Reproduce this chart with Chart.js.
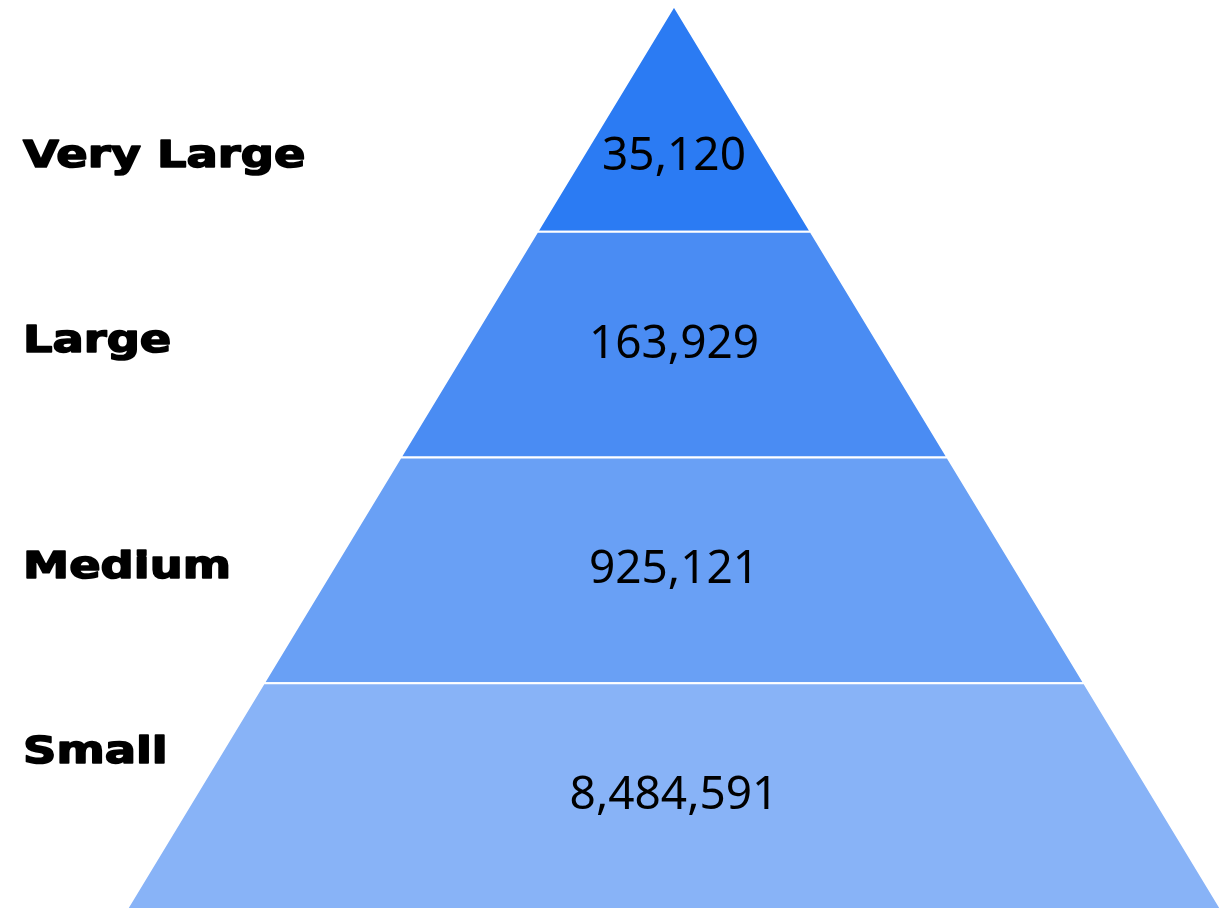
<!DOCTYPE html>
<html>
<head>
<meta charset="utf-8">
<script src="https://cdn.jsdelivr.net/npm/chart.js@4/dist/chart.umd.min.js"></script>
<style>
  html, body { margin: 0; padding: 0; background: #fff; }
  #wrap { width: 1221px; height: 910px; }
</style>
</head>
<body>
<div id="wrap"><canvas id="pyramid"></canvas></div>
<script>
// pyramid levels, bottom to top
const levels = ['Small', 'Medium', 'Large', 'Very Large'];
const counts = [8484591, 925121, 163929, 35120];
const levelColors = ['#88b3f7', '#69a0f5', '#4a8cf3', '#2b7bf3'];

// each level is a trapezoid: y from i to i+1, half width shrinks to 0 at the top
function levelShape(i) {
    const n = levels.length;
    const w0 = (n - i) / n;
    const w1 = (n - i - 1) / n;
    return [
        { x: -w0, y: i },
        { x: w0, y: i },
        { x: w1, y: i + 1 },
        { x: -w1, y: i + 1 },
        { x: -w0, y: i }
    ];
}

// draws the category names on the left and the counts inside each level
const levelText = {
    id: 'levelText',
    afterDatasetsDraw(chart, args, opts) {
        const ctx = chart.ctx;
        const xs = chart.scales.x;
        const ys = chart.scales.y;
        ctx.save();
        ctx.textBaseline = 'middle';
        levels.forEach((name, i) => {
            const top = i === levels.length - 1;
            // triangle: put the number at its centroid, trapezoids: at the middle
            const vy = ys.getPixelForValue(top ? i + 1 / 3 : i + 0.5);
            ctx.fillStyle = '#000';
            ctx.font = '46px "Noto Sans"';
            ctx.textAlign = 'center';
            ctx.fillText(counts[i].toLocaleString('en-US'), xs.getPixelForValue(0), vy);

            // wide heavy look for the names
            const ly = ys.getPixelForValue(i + opts.labelOffsets[i]);
            ctx.save();
            ctx.translate(opts.labelX, ly);
            ctx.scale(opts.labelStretch, 1);
            ctx.font = 'bold 38px "DejaVu Sans"';
            ctx.textAlign = 'left';
            ctx.strokeStyle = '#000';
            ctx.lineWidth = 1.6;
            ctx.lineJoin = 'round';
            ctx.strokeText(name, 0, 0);
            ctx.fillText(name, 0, 0);
            ctx.restore();
        });
        ctx.restore();
    }
};

new Chart(document.querySelector('#pyramid').getContext('2d'), {
    type: 'line',
    data: {
        datasets: levels.map((name, i) => ({
            label: name,
            data: levelShape(i),
            backgroundColor: levelColors[i],
            borderColor: '#ffffff',
            borderWidth: 2,
            borderJoinStyle: 'bevel',
            fill: 'shape',
            tension: 0,
            pointRadius: 0,
            pointHoverRadius: 0
        }))
    },
    options: {
        responsive: true,
        maintainAspectRatio: false,
        animation: false,
        layout: { padding: { left: 127, top: 6, right: 0, bottom: 1 } },
        scales: {
            x: { type: 'linear', min: -1, max: 1, display: false },
            y: { type: 'linear', min: 0, max: levels.length, display: false }
        },
        plugins: {
            legend: { display: false },
            tooltip: { enabled: false },
            levelText: { labelX: 23, labelStretch: 1.22, labelOffsets: [0.69, 0.51, 0.51, 0.33] }
        }
    },
    plugins: [levelText]
});
</script>
</body>
</html>
